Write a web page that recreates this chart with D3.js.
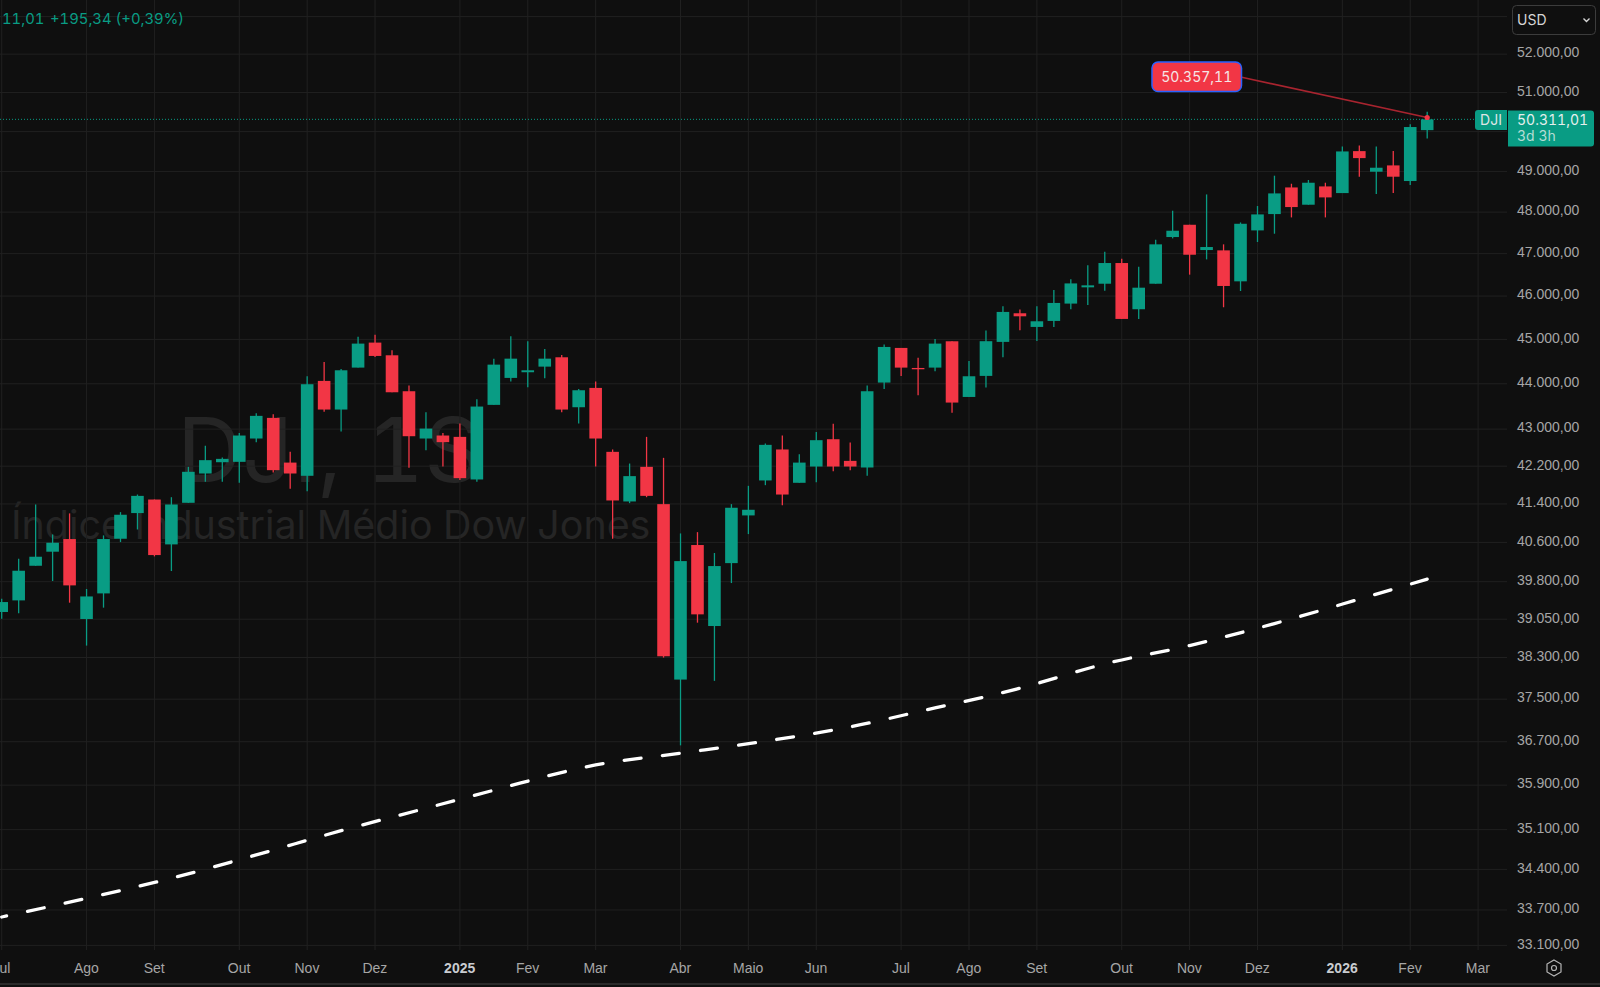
<!DOCTYPE html>
<html>
<head>
<meta charset="utf-8">
<script src="https://cdn.jsdelivr.net/npm/d3@7"></script>
<style>
  html, body { margin: 0; padding: 0; background: #0f0f0f; overflow: hidden; }
  svg { display: block; font-family: Inter, "Liberation Sans", sans-serif; font-variant-numeric: tabular-nums; font-feature-settings: "tnum" 1; }
  .price-axis text, .time-axis text { fill: #a6a6a6; font-size: 14px; }
  .time-axis text.year { fill: #c9ccd0; font-weight: 700; }
</style>
</head>
<body>
<svg id="chart" width="1600" height="987"></svg>
<script>
const candleOpen = [
  39194, 39425, 40123, 40410, 40670, 39055, 39565, 40676, 41209, 41493,
  40560, 41424, 42044, 42285, 42293, 42796, 43246, 42277, 41995, 44064,
  43429, 44362, 44928, 44640, 43834, 42796, 42861, 42832, 41917, 43532,
  44131, 44258, 44384, 44595, 43480, 43908, 42508, 41452, 42186, 41396,
  37874, 40547, 38916, 40177, 41160, 41896, 42559, 41846, 42193, 42781,
  42314, 42172, 44027, 44807, 44354, 44362, 44958, 43707, 44176, 44944,
  45601, 45286, 45424, 45825, 46204, 46289, 46777, 45694, 46289, 47397,
  47693, 47086, 47078, 46345, 47557, 47952, 48604, 48180, 48629, 48465,
  49507, 48993, 49150, 48762, 50036
];
const candleHigh = [
  39458, 40266, 41389, 40765, 41202, 39653, 40745, 41229, 41598, 41493,
  41542, 42186, 42638, 42386, 42918, 43349, 43327, 42508, 44168, 44489,
  44332, 45064, 45109, 44754, 43960, 43371, 42918, 43122, 43656, 44564,
  45072, 44958, 44784, 44648, 43886, 44049, 42559, 42257, 42832, 42379,
  40786, 40813, 40383, 41396, 41782, 42688, 42861, 42458, 42940, 43115,
  42710, 43960, 44882, 44807, 44587, 45011, 44958, 44511, 45202, 45763,
  45686, 45763, 46141, 46391, 46722, 47046, 46879, 46691, 47333, 48034,
  47693, 48432, 47222, 47749, 48148, 48894, 48695, 48787, 48720, 49624,
  49650, 49624, 49507, 50188, 50503
];
const candleLow = [
  39062, 39167, 40123, 39814, 39379, 38532, 39280, 40608, 40868, 40314,
  40016, 41424, 41867, 41867, 41846, 42717, 42066, 41719, 41669, 43378,
  42947, 44362, 44602, 43811, 42165, 42544, 42193, 41903, 41867, 43532,
  44049, 43923, 44124, 43371, 43122, 42193, 40676, 41417, 41542, 38298,
  36632, 38982, 37849, 39773, 40772, 41796, 41375, 41846, 41860, 42094,
  42115, 41995, 43886, 44176, 43744, 44280, 43356, 43707, 43915, 44595,
  45210, 44967, 45286, 45694, 45794, 46126, 45470, 45470, 46289, 47365,
  46502, 46863, 45740, 46118, 47278, 47477, 47871, 48180, 47871, 48465,
  48869, 48440, 48465, 48662, 49826
];
const candleClose = [
  39392, 40022, 40307, 40594, 39726, 39504, 40670, 41174, 41570, 40341,
  41389, 42080, 42329, 42357, 42861, 43290, 42115, 42044, 43990, 43429,
  44302, 44905, 44625, 43811, 42846, 43012, 42717, 41945, 43495, 44429,
  44564, 44302, 44564, 43429, 43856, 42796, 41473, 41988, 41570, 38324,
  40218, 39147, 40117, 41320, 41278, 42659, 41598, 42277, 42760, 42193,
  42193, 43834, 44829, 44362, 44325, 44905, 43583, 44168, 44960, 45632,
  45531, 45416, 45840, 46296, 46251, 46777, 45470, 46196, 47222, 47549,
  46974, 47158, 46236, 47717, 47944, 48457, 48123, 48720, 48359, 49499,
  49332, 49092, 48869, 50115, 50311
];

// dashed long average, read every few weeks
const avgIndex = [0, 5, 10, 15, 20, 25, 29, 30, 35, 40, 45, 50, 55, 58, 60, 65, 70, 75, 80, 84];
const avgValue = [
  33580, 33900, 34246, 34653, 35082, 35483, 35809, 35892, 36270, 36486,
  36709, 36976, 37335, 37549, 37709, 38176, 38533, 38965, 39450, 39852
];

const monthIndex = [0, 5, 9, 14, 18, 22, 27, 31, 35, 40, 44, 48, 53, 57, 61, 66, 70, 74, 79, 83, 87];
const monthLabels = ["Jul", "Ago", "Set", "Out", "Nov", "Dez", "2025", "Fev", "Mar", "Abr", "Maio", "Jun",
  "Jul", "Ago", "Set", "Out", "Nov", "Dez", "2026", "Fev", "Mar"];

const gridPrices = [53000, 52000, 51000, 50000, 49000, 48000, 47000, 46000, 45000, 44000, 43000, 42200,
  41400, 40600, 39800, 39050, 38300, 37500, 36700, 35900, 35100, 34400, 33700, 33100];
const labelPrices = gridPrices.filter((p) => p !== 53000 && p !== 50000);

const LAST_PRICE = 50311.01;
const CALLOUT_PRICE = 50357.11;

const BG = "#0f0f0f";
const GRID = "#202020";
const UP = "#099c84";
const DOWN = "#f23645";
const PLOT_RIGHT = 1507;
const BODY_WIDTH = 12.6;

const svg = d3.select("#chart");

const x = d3.scaleLinear().domain([0, 84]).range([1.7, 1427.2]);
const y = d3.scaleLog().domain([33100, 53000]).range([945.4, 16.6]);

const ptBR = d3.formatLocale({ decimal: ",", thousands: ".", grouping: [3], currency: ["", ""] });
const priceFormat = ptBR.format(",.2f");

svg.append("rect").attr("width", 1600).attr("height", 987).attr("fill", BG);

// watermark
svg.append("text")
  .text("DJI, 1S")
  .attr("x", 177)
  .attr("y", 481.7)
  .attr("font-size", 90)
  .attr("fill", "#252525");
svg.append("text")
  .text("Índice Industrial Médio Dow Jones")
  .attr("x", 11)
  .attr("y", 539)
  .attr("font-size", 39.4)
  .attr("fill", "#252525");

// grid
const grid = svg.append("g").attr("stroke", GRID).attr("stroke-width", 1);
grid.selectAll(".h")
  .data(gridPrices)
  .enter()
  .append("line")
  .attr("x1", 0)
  .attr("x2", PLOT_RIGHT)
  .attr("y1", (d) => y(d))
  .attr("y2", (d) => y(d));
grid.selectAll(".v")
  .data(monthIndex)
  .enter()
  .append("line")
  .attr("x1", (d) => x(d))
  .attr("x2", (d) => x(d))
  .attr("y1", 0)
  .attr("y2", 950);

// last price dotted line
svg.append("line")
  .attr("x1", 0)
  .attr("x2", 1475)
  .attr("y1", y(LAST_PRICE))
  .attr("y2", y(LAST_PRICE))
  .attr("stroke", UP)
  .attr("stroke-width", 1)
  .attr("stroke-dasharray", "1 2");

// candles
const candles = svg.append("g")
  .selectAll("g")
  .data(candleOpen.map((_, i) => i))
  .enter()
  .append("g")
  .attr("fill", (i) => (candleClose[i] >= candleOpen[i] ? UP : DOWN))
  .attr("stroke", (i) => (candleClose[i] >= candleOpen[i] ? UP : DOWN));

candles.append("line")
  .attr("x1", (i) => x(i))
  .attr("x2", (i) => x(i))
  .attr("y1", (i) => y(candleHigh[i]))
  .attr("y2", (i) => y(candleLow[i]))
  .attr("stroke-width", 1.3);

candles.append("rect")
  .attr("x", (i) => x(i) - BODY_WIDTH / 2)
  .attr("y", (i) => y(Math.max(candleOpen[i], candleClose[i])))
  .attr("width", BODY_WIDTH)
  .attr("height", (i) => Math.abs(y(candleOpen[i]) - y(candleClose[i])))
  .attr("stroke", "none");

// dashed average line
const avgLine = d3.line()
  .x((d) => x(d))
  .y((_, i) => y(avgValue[i]))
  .curve(d3.curveMonotoneX);

svg.append("path")
  .attr("d", avgLine(avgIndex))
  .attr("fill", "none")
  .attr("stroke", "#ffffff")
  .attr("stroke-width", 3.3)
  .attr("stroke-linecap", "round")
  .attr("stroke-dasharray", "17 21.48")
  .attr("stroke-dashoffset", 12);

// axes
const priceAxis = svg.append("g")
  .attr("class", "price-axis")
  .attr("transform", `translate(${PLOT_RIGHT},0)`)
  .call(d3.axisRight(y).tickValues(labelPrices).tickFormat(priceFormat).tickSize(0).tickPadding(10));
priceAxis.select(".domain").remove();
priceAxis.selectAll("text").attr("dy", "0.2em");

const timeAxis = svg.append("g")
  .attr("class", "time-axis")
  .attr("transform", "translate(-0.7,953)")
  .call(d3.axisBottom(x).tickValues(monthIndex).tickFormat((d, i) => monthLabels[i]).tickSize(0).tickPadding(10));
timeAxis.select(".domain").remove();
timeAxis.selectAll("text")
  .attr("class", (d, i) => (monthLabels[i].length === 4 && +monthLabels[i] ? "year" : null));

// bottom separator
svg.append("rect").attr("x", 0).attr("y", 983).attr("width", 1600).attr("height", 2).attr("fill", "#2a2a2a");

// header values
svg.append("text")
  .attr("x", 2)
  .attr("y", 24)
  .attr("font-size", 14.8)
  .attr("fill", UP)
  .text("11,01");
svg.append("text")
  .attr("x", 50)
  .attr("y", 24)
  .attr("font-size", 14.8)
  .attr("fill", UP)
  .text("+195,34 (+0,39%)");

// currency button
svg.append("rect")
  .attr("x", 1512.5)
  .attr("y", 5.5)
  .attr("width", 83)
  .attr("height", 29)
  .attr("rx", 4)
  .attr("fill", "none")
  .attr("stroke", "#3c3c3c");
svg.append("text")
  .attr("x", 1517)
  .attr("y", 24.5)
  .attr("font-size", 14)
  .attr("fill", "#d6d6d6")
  .text("USD");
svg.append("path")
  .attr("d", "M1583.5 18.5 L1586.5 21.5 L1589.5 18.5")
  .attr("fill", "none")
  .attr("stroke", "#d6d6d6")
  .attr("stroke-width", 1.4);

// last price tags
svg.append("path")
  .attr("d", "M1475 113 a3 3 0 0 1 3 -3 H1507 V130 H1478 a3 3 0 0 1 -3 -3 Z")
  .attr("fill", UP);
svg.append("text")
  .attr("x", 1491)
  .attr("y", 125)
  .attr("text-anchor", "middle")
  .attr("font-size", 14)
  .attr("fill", "#dfe5e4")
  .text("DJI");
svg.append("path")
  .attr("d", "M1508 110.5 H1591 a3 3 0 0 1 3 3 V143.5 a3 3 0 0 1 -3 3 H1508 Z")
  .attr("fill", UP);
svg.append("text")
  .attr("x", 1517)
  .attr("y", 124.5)
  .attr("font-size", 14)
  .attr("fill", "#e6efed")
  .text(priceFormat(LAST_PRICE));
svg.append("text")
  .attr("x", 1517)
  .attr("y", 141)
  .attr("font-size", 14)
  .attr("fill", "#b5dcd5")
  .text("3d 3h");

// callout for the high
svg.append("line")
  .attr("x1", 1241.7)
  .attr("y1", 77.3)
  .attr("x2", x(84))
  .attr("y2", y(CALLOUT_PRICE))
  .attr("stroke", "#a8242f")
  .attr("stroke-width", 1.6);
svg.append("circle")
  .attr("cx", x(84))
  .attr("cy", y(CALLOUT_PRICE))
  .attr("r", 2.6)
  .attr("fill", DOWN);
svg.append("rect")
  .attr("x", 1152)
  .attr("y", 62)
  .attr("width", 89.5)
  .attr("height", 29.5)
  .attr("rx", 6)
  .attr("fill", DOWN)
  .attr("stroke", "#2962ff")
  .attr("stroke-width", 1.5);
svg.append("text")
  .attr("x", 1196.7)
  .attr("y", 82)
  .attr("text-anchor", "middle")
  .attr("font-size", 14)
  .attr("fill", "#f5e6e7")
  .text(priceFormat(CALLOUT_PRICE));

// settings icon
svg.append("path")
  .attr("d", "M1554 960 L1561 964 V972 L1554 976 L1547 972 V964 Z")
  .attr("fill", "none")
  .attr("stroke", "#b5b5b5")
  .attr("stroke-width", 1.2);
svg.append("circle")
  .attr("cx", 1554)
  .attr("cy", 968)
  .attr("r", 2.5)
  .attr("fill", "none")
  .attr("stroke", "#b5b5b5")
  .attr("stroke-width", 1.2);
</script>
</body>
</html>
